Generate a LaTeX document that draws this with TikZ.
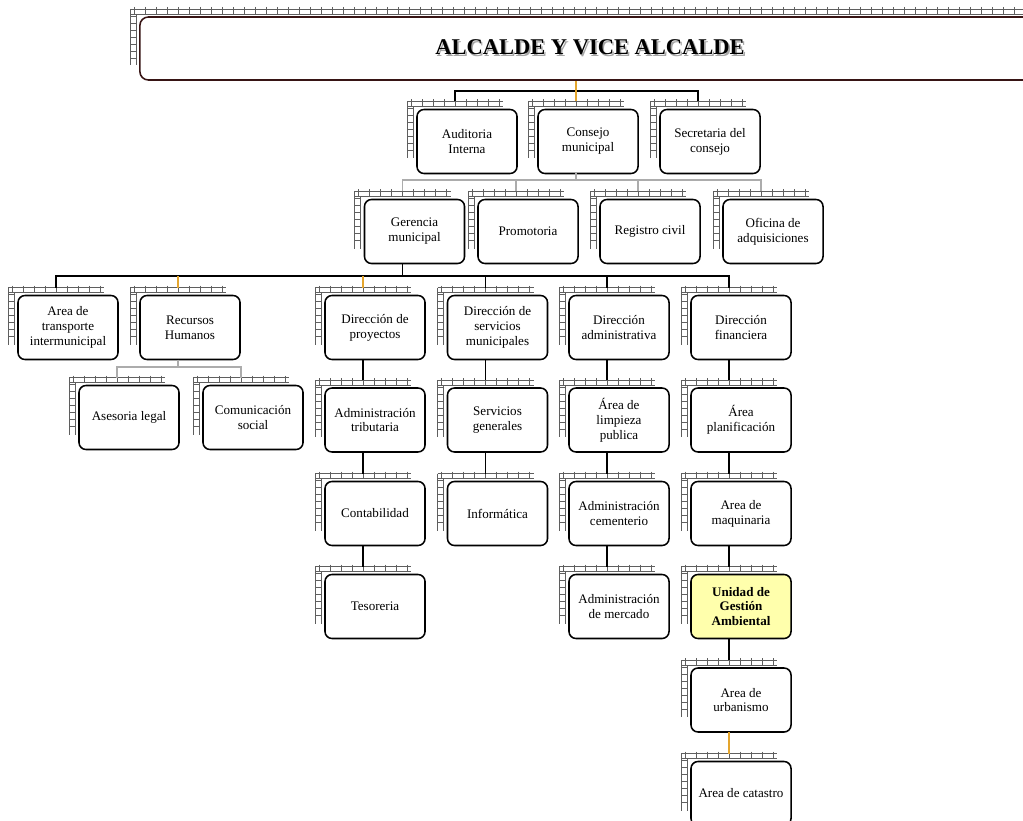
\documentclass[tikz,border=0pt]{standalone}
\usepackage{fontspec}
\setmainfont{Liberation Serif}
\usetikzlibrary{calc}

\definecolor{brickgray}{RGB}{95,95,95}
\definecolor{ugayellow}{RGB}{255,255,172}
\definecolor{tickorange}{RGB}{228,165,45}
\definecolor{titleedge}{RGB}{55,20,20}

\tikzset{
	unit/.style={draw, line width=1.1pt, rounded corners=5pt, fill=white,
		minimum width=2.5cm, minimum height=1.6cm, inner sep=1pt, align=center,
		font=\fontsize{9.3}{10.6}\selectfont},
	brick/.style={draw=brickgray, line width=0.6pt},
	link/.style={line width=1pt},
	sublink/.style={line width=0.9pt, draw=gray!65},
	hint/.style={line width=1pt, draw=tickorange},
}

% brick strip along top and left edge: L T R B (pixels)
\newcommand\brickstrip[4]{%
	\pgfmathtruncatemacro\nt{((#3)-(#1)-6)/11}
	\pgfmathtruncatemacro\nl{((#4)-(#2)-9)/7}
	\draw[brick] ({#1-10},{#2-8}) -- ({#3-14},{#2-8}) ({#1-10},{#2-3}) -- ({#3-14},{#2-3});
	\draw[brick] ({#1-10},{#2-8}) -- ({#1-10},{#4-15}) ({#1-4},{#2-3}) -- ({#1-4},{#4-15});
	\foreach \k in {0,...,\nt} {\draw[brick] ({#1-6+11*\k},{#2-10}) -- ++(0,7);}
	\foreach \k in {1,...,\nl} {\draw[brick] ({#1-10},{#2-8+7*\k}) -- ++(6,0);}
}

% box with bricks: [opts] name cx cy text
\newcommand\unitbox[5][]{%
	\brickstrip{#3-50}{#4-32}{#3+50}{#4+32}
	\node[unit,#1] (#2) at (#3,#4) {#5};
	\coordinate (#2-t) at ({#3-12},{#4-40});
	\coordinate (#2-b) at ({#3-12},{#4+32});
}

\begin{document}
\begin{tikzpicture}[x=0.025cm, y=-0.025cm]
	\useasboundingbox (0,0) rectangle (1023,820);
	\clip (0,0) rectangle (1023,820);
	%
	\brickstrip{140}{17}{1060}{80}
	\node[draw=titleedge, line width=1.1pt, rounded corners=6pt, fill=white,
		minimum width=22.5cm, minimum height=1.575cm,
		font=\fontsize{16}{18}\selectfont\bfseries] (title) at (590,48.5)
		{\rlap{\raisebox{-1.2pt}{\hspace{1.2pt}\color{gray!70}ALCALDE Y VICE ALCALDE}}ALCALDE Y VICE ALCALDE};
	%
	\unitbox{aud}{467}{141.5}{Auditoria\\Interna}
	\unitbox{con}{588}{141.5}{Consejo\\municipal}
	\unitbox{sec}{710}{141.5}{Secretaria del\\consejo}
	%
	\unitbox{ger}{414.5}{231.5}{Gerencia\\municipal}
	\unitbox{pro}{528}{231.5}{Promotoria}
	\unitbox{reg}{650}{231.5}{Registro civil}
	\unitbox{ofi}{773}{231.5}{Oficina de\\adquisiciones}
	%
	\unitbox{tra}{68}{327.5}{Area de\\transporte\\intermunicipal}
	\unitbox{rrh}{190}{327.5}{Recursos\\Humanos}
	\unitbox{pry}{375}{327.5}{Dirección de\\proyectos}
	\unitbox{ser}{497.5}{327.5}{Dirección de\\servicios\\municipales}
	\unitbox{adm}{619}{327.5}{Dirección\\administrativa}
	\unitbox{fin}{741}{327.5}{Dirección\\financiera}
	%
	\unitbox{ase}{129}{417.5}{Asesoria legal}
	\unitbox{com}{253}{417.5}{Comunicación\\social}
	%
	\unitbox{tri}{375}{420}{Administración\\tributaria}
	\unitbox{cnt}{375}{513.5}{Contabilidad}
	\unitbox{tes}{375}{606.5}{Tesoreria}
	%
	\unitbox{sgn}{497.5}{420}{Servicios\\generales}
	\unitbox{inf}{497.5}{513.5}{Informática}
	%
	\unitbox{lim}{619}{420}{Área de\\limpieza\\publica}
	\unitbox{cem}{619}{513.5}{Administración\\cementerio}
	\unitbox{mer}{619}{606.5}{Administración\\de mercado}
	%
	\unitbox{pla}{741}{420}{Área\\planificación}
	\unitbox{maq}{741}{513.5}{Area de\\maquinaria}
	\unitbox[fill=ugayellow, font=\fontsize{9.3}{10.6}\selectfont\bfseries]{uga}{741}{606.5}{Unidad de\\Gestión\\Ambiental}
	\unitbox{urb}{741}{700}{Area de\\urbanismo}
	\unitbox{cat}{741}{793.5}{Area de catastro}
	%
	\coordinate (bar1) at (576,91);
	\coordinate (bar2) at (576,180);
	\coordinate (bar3) at (402.5,276);
	\coordinate (bar4) at (178,367);
	%
	\draw[link] (aud-t) |- (bar1) -| (sec-t);
	\draw[hint] (title.south -| con-t) -- (con-t);
	%
	\draw[sublink] (ger-t) |- (bar2) -| (ofi-t);
	\draw[sublink] (con-b) -- (bar2);
	\draw[sublink] (pro-t) -- (pro-t |- bar2);
	\draw[sublink] (reg-t) -- (reg-t |- bar2);
	%
	\draw[link] (tra-t) |- (bar3) -| (fin-t);
	\draw[link] (ger-b) -- (bar3);
	\draw[link] (ser-t) -- (ser-t |- bar3);
	\draw[link] (adm-t) -- (adm-t |- bar3);
	\draw[hint] (rrh-t) -- (rrh-t |- bar3);
	\draw[hint] (pry-t) -- (pry-t |- bar3);
	%
	\draw[sublink] (ase-t) |- (bar4) -| (com-t);
	\draw[sublink] (rrh-b) -- (bar4);
	%
	\draw[link] (pry-b) -- (tri-t) (tri-b) -- (cnt-t) (cnt-b) -- (tes-t);
	\draw[link] (ser-b) -- (sgn-t) (sgn-b) -- (inf-t);
	\draw[link] (adm-b) -- (lim-t) (lim-b) -- (cem-t) (cem-b) -- (mer-t);
	\draw[link] (fin-b) -- (pla-t) (pla-b) -- (maq-t) (maq-b) -- (uga-t) (uga-b) -- (urb-t);
	\draw[hint] (urb-b) -- (cat-t);
\end{tikzpicture}
\end{document}
